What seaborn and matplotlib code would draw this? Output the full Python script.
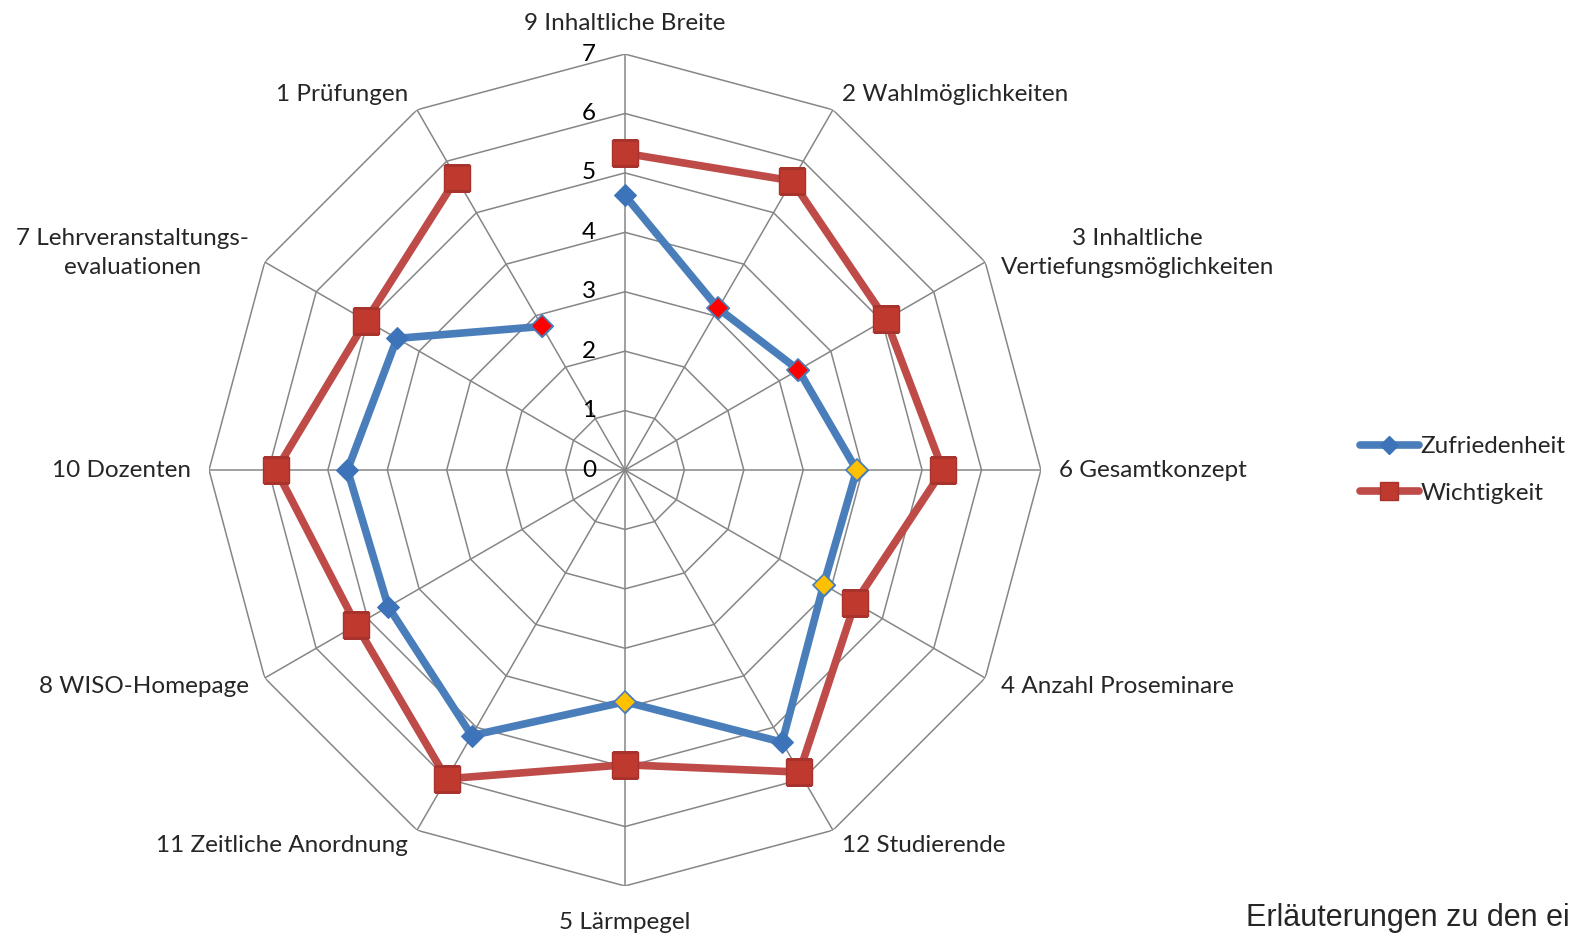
import numpy as np
import pandas as pd
import seaborn as sns
import matplotlib.pyplot as plt
from matplotlib.lines import Line2D

# categories clockwise, starting at the top
categories = ['9 Inhaltliche Breite', '2 Wahlmöglichkeiten', '3 Inhaltliche\nVertiefungsmöglichkeiten',
              '6 Gesamtkonzept', '4 Anzahl Proseminare', '12 Studierende', '5 Lärmpegel',
              '11 Zeitliche Anordnung', '8 WISO-Homepage', '10 Dozenten',
              '7 Lehrveranstaltungs-\nevaluationen', '1 Prüfungen']
zufriedenheit = [4.62, 3.14, 3.37, 3.9, 3.86, 5.29, 3.9, 5.16, 4.6, 4.67, 4.43, 2.79]
wichtigkeit = [5.33, 5.62, 5.07, 5.35, 4.47, 5.87, 4.96, 6.0, 5.22, 5.87, 5.03, 5.67]
r_ticks = [0, 1, 2, 3, 4, 5, 6, 7]

# highlighted diamonds on the Zufriedenheit series
highlight_red = ['2 Wahlmöglichkeiten', '3 Inhaltliche\nVertiefungsmöglichkeiten', '1 Prüfungen']
highlight_yellow = ['6 Gesamtkonzept', '4 Anzahl Proseminare', '5 Lärmpegel']

BLUE = '#4A7EBB'
BLUE_MK = '#3D73B9'
RED = '#BE4B48'
RED_MK = '#C0392F'
GRID = '#868686'
FS = 17.5

sns.set_style('white')
plt.rcParams['font.family'] = ['Lato', 'DejaVu Sans']

n = len(categories)
theta = np.arange(n) * 2 * np.pi / n
df = pd.DataFrame({'cat': categories, 'theta': theta,
                   'Zufriedenheit': zufriedenheit, 'Wichtigkeit': wichtigkeit})
closed = pd.concat([df, df.iloc[[0]]], ignore_index=True)

fig = plt.figure(figsize=(15.81, 9.36), dpi=100)
ax = fig.add_axes([0.1322, 0.0534, 0.5262, 0.8889], projection='polar')
ax.set_theta_zero_location('N')
ax.set_theta_direction(-1)
ax.set_ylim(0, 7)
ax.grid(False)
ax.spines['polar'].set_visible(False)
ax.set_xticks([])
ax.set_yticks([])

# polygon grid and spokes
ring_theta = np.append(theta, theta[0])
for r in r_ticks[1:]:
    ax.plot(ring_theta, [r] * len(ring_theta), color=GRID, lw=1.1, zorder=1)
for t in theta:
    ax.plot([t, t], [0, 7], color=GRID, lw=1.1, zorder=1)

# radial tick labels in a column left of the top spoke
for r in r_ticks:
    ax.annotate(str(r), xy=(0, r), xytext=(-29, 0), textcoords='offset pixels',
                ha='right', va='center', fontsize=FS, color='black', zorder=2)

# series
sns.lineplot(x='theta', y='Zufriedenheit', data=closed, sort=False, ax=ax, color=BLUE,
             linewidth=5.5, marker='D', markersize=11.5, markerfacecolor=BLUE_MK,
             markeredgecolor=BLUE_MK, zorder=3)
hr = df[df.cat.isin(highlight_red)]
hy = df[df.cat.isin(highlight_yellow)]
ax.plot(hr.theta, hr.Zufriedenheit, 'D', ms=11.5, mfc='#FF0000', mec=BLUE, mew=1.2, zorder=4)
ax.plot(hy.theta, hy.Zufriedenheit, 'D', ms=11.5, mfc='#FFC000', mec=BLUE, mew=1.2, zorder=4)
sns.lineplot(x='theta', y='Wichtigkeit', data=closed, sort=False, ax=ax, color=RED,
             linewidth=5.5, marker='s', markersize=19, markerfacecolor=RED_MK,
             markeredgecolor='#A8322C', markeredgewidth=1, zorder=5)
ax.set_xlabel('')
ax.set_ylabel('')

# category labels
for t, lab in zip(theta, categories):
    s = np.sin(t)
    if abs(s) < 1e-6:
        rr = 7.52 if np.cos(t) > 0 else 7.62
        ax.text(t, rr, lab, ha='center', va='center', fontsize=FS)
    else:
        ax.text(t, 7.3, lab, ha='left' if s > 0 else 'right', va='center',
                multialignment='center', fontsize=FS, linespacing=1.5)

handles = [Line2D([], [], color=BLUE, lw=5.5, marker='D', ms=9, mfc=BLUE_MK, mec=BLUE_MK),
           Line2D([], [], color=RED, lw=5.5, marker='s', ms=13, mfc=RED_MK, mec='#A8322C')]
fig.legend(handles, ['Zufriedenheit', 'Wichtigkeit'], loc='center left',
           bbox_to_anchor=(0.86, 0.498), frameon=False, fontsize=FS,
           handlelength=2.45, handletextpad=0.05, labelspacing=1.05, borderpad=0, borderaxespad=0)

fig.text(0.788, 0.011, 'Erläuterungen zu den ei', family='Liberation Sans', fontsize=22,
         va='baseline', ha='left')

fig.savefig('out.png', dpi=100)
